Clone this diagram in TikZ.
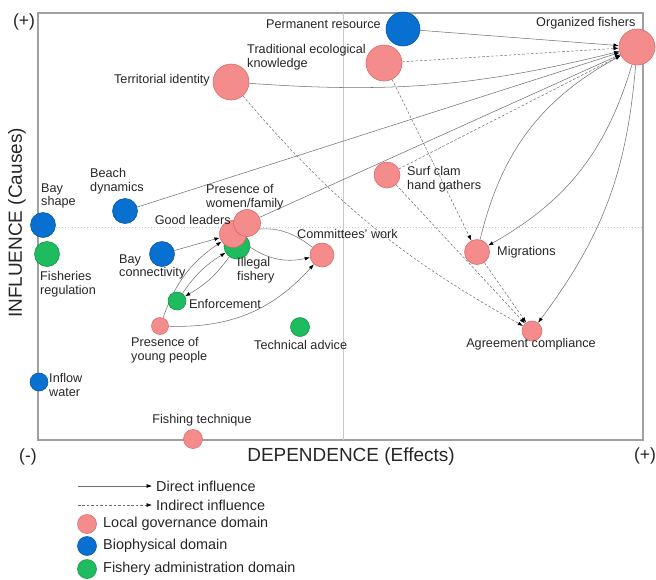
\documentclass[tikz,border=0pt]{standalone}
\usepackage{fontspec}
\setmainfont{Liberation Sans}
\usetikzlibrary{arrows.meta,backgrounds}

\definecolor{govfill}{RGB}{245,140,140}
\definecolor{govline}{RGB}{214,108,108}
\definecolor{biofill}{RGB}{8,112,208}
\definecolor{bioline}{RGB}{5,86,165}
\definecolor{admfill}{RGB}{30,188,95}
\definecolor{admline}{RGB}{20,145,70}
\definecolor{edgegrey}{RGB}{112,112,112}
\definecolor{framegrey}{RGB}{160,160,160}
\definecolor{midgrey}{RGB}{200,200,200}

\tikzset{
  govdot/.style={circle, draw=govline, fill=govfill, line width=0.5pt, inner sep=0pt, minimum size=#1*0.03cm},
  biodot/.style={circle, draw=bioline, fill=biofill, line width=0.5pt, inner sep=0pt, minimum size=#1*0.03cm},
  admdot/.style={circle, draw=admline, fill=admfill, line width=0.5pt, inner sep=0pt, minimum size=#1*0.03cm},
  lbl/.style={inner sep=0pt, align=left, text=black!85, font=\fontsize{10.8}{11.6}\selectfont},
  legtext/.style={inner sep=0pt, text=black!85, font=\fontsize{12.3}{13}\selectfont},
  axistext/.style={inner sep=0pt, text=black!85, font=\fontsize{16.2}{18}\selectfont},
  signtext/.style={inner sep=0pt, text=black!85, font=\fontsize{15}{17}\selectfont},
  direct/.style={draw=edgegrey, line width=0.45pt, -{Latex[length=4.5pt,width=3.2pt,color=black]}},
  indirect/.style={direct, dash pattern=on 2.2pt off 1.6pt}
}

\begin{document}
\begin{tikzpicture}[x=0.03cm, y=-0.03cm]
    \useasboundingbox (0,0) rectangle (656,579);

    % factors
    \node[admdot=26] (IF) at (237,246) {};
    \node[govdot=27] (GL) at (233,234) {};
    \node[govdot=27] (WF) at (247,223) {};
    \node[govdot=36] (OF) at (637,47) {};
    \node[biodot=34] (PR) at (403,29) {};
    \node[govdot=36] (TEK) at (384,63) {};
    \node[govdot=36] (TI) at (231,82) {};
    \node[govdot=26] (SC) at (387,175) {};
    \node[biodot=25] (BD) at (125,211) {};
    \node[biodot=25] (BS) at (43,225) {};
    \node[admdot=25] (FR) at (47,254) {};
    \node[biodot=25] (BC) at (162,254) {};
    \node[govdot=24] (CW) at (322,255) {};
    \node[govdot=25] (MIG) at (477,252) {};
    \node[admdot=18] (ENF) at (177,301) {};
    \node[govdot=17] (YP) at (160,326) {};
    \node[admdot=19] (TA) at (300,327) {};
    \node[govdot=20] (AC) at (532,331) {};
    \node[biodot=18] (IW) at (39,382) {};
    \node[govdot=19] (FT) at (193,439) {};

    \node[lbl, anchor=east] (PR-t) at (381,24) {Permanent resource};
    \node[lbl, anchor=west] (OF-t) at (536,23) {Organized fishers};
    \node[lbl, anchor=west] (TEK-t) at (247,57) {Traditional ecological\\knowledge};
    \node[lbl, anchor=east] (TI-t) at (210,80) {Territorial identity};
    \node[lbl, anchor=west] (SC-t) at (407,179) {Surf clam\\hand gathers};
    \node[lbl, anchor=west] (BD-t) at (90,181) {Beach\\dynamics};
    \node[lbl, anchor=west] (BS-t) at (41,196) {Bay\\shape};
    \node[lbl, anchor=west] (WF-t) at (206,197) {Presence of\\women/family};
    \node[lbl, anchor=east] (GL-t) at (231,220) {Good leaders};
    \node[lbl, anchor=west] (IF-t) at (237,270) {Illegal\\fishery};
    \node[lbl, anchor=west] (FR-t) at (40,284) {Fisheries\\regulation};
    \node[lbl, anchor=west] (BC-t) at (119,267) {Bay\\connectivity};
    \node[lbl, anchor=west] (CW-t) at (297,234) {Committees' work};
    \node[lbl, anchor=west] (MIG-t) at (497,252) {Migrations};
    \node[lbl, anchor=west] (ENF-t) at (189,304) {Enforcement};
    \node[lbl, anchor=west] (YP-t) at (131,350) {Presence of\\young people};
    \node[lbl, anchor=west] (TA-t) at (254,345) {Technical advice};
    \node[lbl] (AC-t) at (531,344) {Agreement compliance};
    \node[lbl, anchor=west] (IW-t) at (49,385) {Inflow\\water};
    \node[lbl] (FT-t) at (202,420) {Fishing technique};

    % axes
    \node[signtext] (ytop) at (24,22) {(+)};
    \node[signtext] (xlow) at (28,457) {(-)};
    \node[signtext] (xtop) at (645,456) {(+)};
    \node[axistext] (xname) at (351,457) {DEPENDENCE (Effects)};
    \node[axistext, rotate=90] (yname) at (17,223) {INFLUENCE (Causes)};

    \begin{scope}[on background layer]
        \draw[framegrey, line width=0.9pt] (38,13) rectangle (643,440);
        \draw[midgrey, line width=0.5pt] (343,13) -- (343,440);
        \draw[midgrey, line width=0.6pt, dotted] (38,227) -- (643,227);

        % direct influence
        \draw[direct] (PR) -- (OF);
        \draw[direct] (TI) to[bend right=9] (OF);
        \draw[direct] (BD) -- (OF);
        \draw[direct] (WF) -- (OF);
        \draw[direct] (MIG) to[bend left=24] (OF);
        \draw[direct] (OF) to[bend left=22] (MIG);
        \draw[direct] (OF) to[bend left=16] (AC);
        \draw[direct] (BC) -- (GL);
        \draw[direct] (YP) to[bend left=18] (GL);
        \draw[direct] (ENF) to[bend left=12] (IF);
        \draw[direct] (IF) to[bend left=12] (ENF);
        \draw[direct] (GL) to[bend right=25] (CW);
        \draw[direct] (CW) to[bend right=25] (GL);
        \draw[direct] (YP) to[bend right=25] (CW);

        % indirect influence
        \draw[indirect] (TEK) -- (OF);
        \draw[indirect] (SC) -- (OF);
        \draw[indirect] (TI) to[bend right=10] (AC);
        \draw[indirect] (TEK) -- (MIG);
        \draw[indirect] (SC) -- (AC);
        \draw[indirect] (MIG) -- (AC);
    \end{scope}

    % legend
    \coordinate (d0) at (78,486);
    \coordinate (d1) at (152,486);
    \coordinate (i0) at (78,505);
    \coordinate (i1) at (152,505);
    \draw[direct] (d0) -- (d1);
    \draw[indirect] (i0) -- (i1);
    \node[legtext, anchor=west] (d-t) at (156,486) {Direct influence};
    \node[legtext, anchor=west] (i-t) at (156,505) {Indirect influence};
    \node[govdot=19] (leg1) at (87,524) {};
    \node[biodot=19] (leg2) at (87,546) {};
    \node[admdot=19] (leg3) at (87,569) {};
    \node[legtext, anchor=west] (leg1-t) at (103,524) {Local governance domain};
    \node[legtext, anchor=west] (leg2-t) at (103,546) {Biophysical domain};
    \node[legtext, anchor=west] (leg3-t) at (103,569) {Fishery administration domain};
\end{tikzpicture}
\end{document}
